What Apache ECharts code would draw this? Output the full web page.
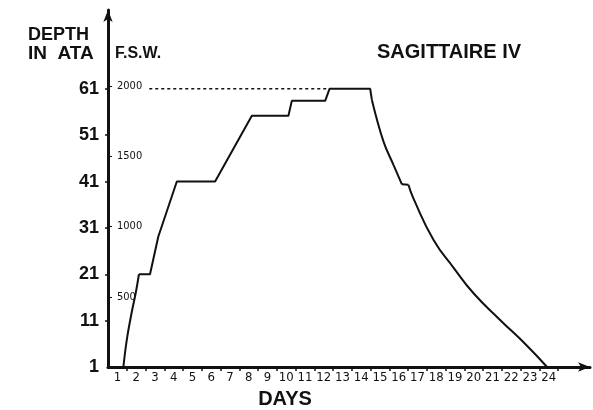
<!DOCTYPE html>
<html>
<head>
<meta charset="utf-8">
<script src="https://cdn.jsdelivr.net/npm/echarts@6/dist/echarts.min.js"></script>
<style>
  html, body { margin: 0; padding: 0; background: #fff; }
  #chart { width: 593px; height: 410px; }
</style>
</head>
<body>
<div id="chart"></div>
<script>
// depth profile: day (from start) and depth in ATA
var riseDays = [0.82, 1.0, 1.26, 1.48, 1.65];
var riseAta = [1, 6.8, 12.7, 17, 21];
var stepDays = [1.65, 2.24, 2.68, 3.67, 5.71, 7.67, 9.62, 9.80, 11.58, 11.81, 13.98, 14.07];
var stepAta = [21, 21, 29.1, 41, 41, 55.2, 55.2, 58.4, 58.4, 61, 61, 58.6];
var dropDays = [14.07, 14.69, 15.22, 15.67];
var dropAta = [58.6, 49.6, 44.6, 40.4];
var shelfDays = [15.67, 16.02];
var shelfAta = [40.4, 40.3];
var fallDays = [16.02, 16.29, 17.36, 18.43, 19.49, 20.92, 22.34, 23.41];
var fallAta = [40.3, 37.3, 28.4, 22.4, 16.9, 11.1, 5.6, 1];
// 2000 fsw reference level (dotted)
var refDays = [2.2, 11.8];
var refAta = [61, 61];

var ataTicks = [1, 11, 21, 31, 41, 51, 61];
var fswTicks = [500, 1000, 1500, 2000];
var dayLabels = ['1','2','3','4','5','6','7','8','9','10','11','12','13','14','15','16','17','18','19','20','21','22','23','24'];

var ataMax = 78;
var fswMax = (ataMax - 1) * 33;
var ink = '#111';
var narrow = '"Liberation Sans Narrow", "DejaVu Sans Condensed", "Liberation Sans"';

function pairs(xs, ys) {
  return xs.map(function (x, i) { return [x, ys[i]]; });
}

function profile(name, xs, ys, smooth) {
  return {
    name: name,
    type: 'line',
    smooth: smooth,
    symbol: 'none',
    data: pairs(xs, ys),
    lineStyle: { color: ink, width: 2 }
  };
}

var dayTickPos = dayLabels.map(function (d, i) { return i + 1; });
var dayLabelPos = dayLabels.map(function (d, i) { return i + 0.5; });

var myChart = echarts.init(document.getElementById('chart'));
var option = {
    animation: false,
    backgroundColor: '#fff',
    title: {
        text: 'SAGITTAIRE IV',
        left: 377,
        top: 42,
        padding: 0,
        textStyle: { fontFamily: 'Liberation Sans', fontSize: 20, fontWeight: 'bold', color: ink }
    },
    grid: { left: 108, right: 3, top: 10, bottom: 43, outerBoundsMode: 'none' },
    xAxis: {
        type: 'value',
        min: 0,
        max: 25.7,
        axisLine: {
            show: true,
            symbol: ['none', 'arrow'],
            symbolSize: [7, 12],
            lineStyle: { color: ink, width: 3 }
        },
        axisTick: { show: true, customValues: dayTickPos, length: 4, lineStyle: { color: ink, width: 1.5 } },
        axisLabel: {
            customValues: dayLabelPos,
            formatter: function (v) { return dayLabels[Math.round(v - 0.5)]; },
            margin: 4,
            fontSize: 13,
            fontFamily: narrow,
            color: ink
        },
        splitLine: { show: false }
    },
    yAxis: [{
        type: 'value',
        min: 1,
        max: ataMax,
        axisLine: {
            show: true,
            symbol: ['none', 'arrow'],
            symbolSize: [7, 12],
            lineStyle: { color: ink, width: 3 }
        },
        axisTick: { show: true, customValues: ataTicks.slice(1), length: 3, lineStyle: { color: ink, width: 1.5 } },
        axisLabel: {
            customValues: ataTicks,
            margin: 9,
            fontSize: 18,
            fontWeight: 'bold',
            fontFamily: 'Liberation Sans',
            color: ink
        },
        splitLine: { show: false }
    }, {
        type: 'value',
        position: 'left',
        min: 0,
        max: fswMax,
        axisLine: { show: false },
        axisTick: { show: true, inside: true, customValues: fswTicks, length: 4, lineStyle: { color: ink, width: 1 } },
        axisLabel: {
            inside: true,
            customValues: fswTicks,
            formatter: function (v) { return String(v); },
            margin: 9,
            fontSize: 11,
            fontFamily: narrow,
            color: ink
        },
        splitLine: { show: false }
    }],
    graphic: [
        { type: 'text', style: { text: 'DEPTH', x: 28, y: 35, textVerticalAlign: 'middle', fontFamily: 'Liberation Sans', fontSize: 18, fontWeight: 'bold', fill: ink } },
        { type: 'text', style: { text: 'IN  ATA', x: 28, y: 54, textVerticalAlign: 'middle', fontFamily: 'Liberation Sans', fontSize: 19, fontWeight: 'bold', fill: ink } },
        { type: 'text', style: { text: 'F.S.W.', x: 115, y: 54, textVerticalAlign: 'middle', fontFamily: 'Liberation Sans', fontSize: 16, fontWeight: 'bold', fill: ink } },
        { type: 'text', style: { text: 'DAYS', x: 285, y: 399, textAlign: 'center', textVerticalAlign: 'middle', fontFamily: 'Liberation Sans', fontSize: 20, fontWeight: 'bold', fill: ink } }
    ],
    series: [
        profile('rise', riseDays, riseAta, 0.4),
        profile('steps', stepDays, stepAta, false),
        profile('drop', dropDays, dropAta, 0.4),
        profile('shelf', shelfDays, shelfAta, false),
        profile('fall', fallDays, fallAta, 0.5),
        {
            name: '2000 fsw',
            type: 'line',
            symbol: 'none',
            data: pairs(refDays, refAta),
            lineStyle: { color: ink, width: 1.5, type: [3, 3] }
        }
    ]
};
myChart.setOption(option);
</script>
</body>
</html>
